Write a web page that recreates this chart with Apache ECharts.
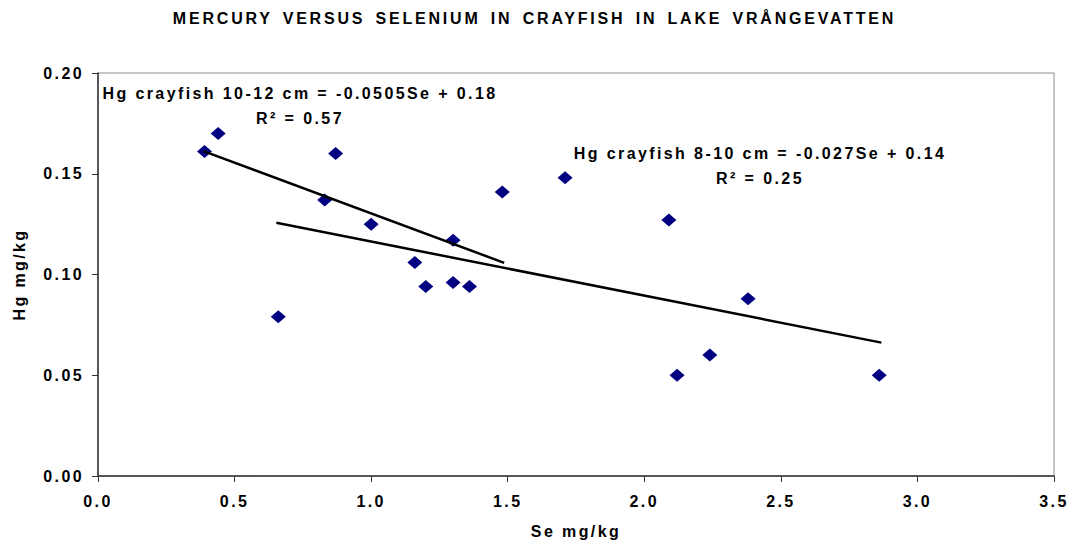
<!DOCTYPE html>
<html>
<head>
<meta charset="utf-8">
<script src="https://cdn.jsdelivr.net/npm/echarts@6/dist/echarts.min.js"></script>
<style>
  html, body { margin: 0; padding: 0; background: #fff; }
  #main { width: 1069px; height: 544px; }
  /* the original export spreads its letters out */
  #main text { letter-spacing: 2.4px; }
  #main text[style*="Liberation"] { letter-spacing: 2.8px; word-spacing: 3px; }
</style>
</head>
<body>
<div id="main"></div>
<script>
// Se (x) and Hg (y), mg/kg
var seValues = [0.39, 0.44, 0.87, 0.83, 1.00, 0.66, 1.16, 1.20, 1.30, 1.30, 1.36, 1.48, 1.71, 2.09, 2.12, 2.24, 2.38, 2.86];
var hgValues = [0.161, 0.170, 0.160, 0.137, 0.125, 0.079, 0.106, 0.094, 0.117, 0.096, 0.094, 0.141, 0.148, 0.127, 0.050, 0.060, 0.088, 0.050];

// trend line end points
var trendLargeX = [0.386, 1.487];   // 10-12 cm
var trendLargeY = [0.1612, 0.1058];
var trendSmallX = [0.653, 2.868];   // 8-10 cm
var trendSmallY = [0.1257, 0.0662];

var xTicks = [0, 0.5, 1, 1.5, 2, 2.5, 3, 3.5];
var yTicks = [0, 0.05, 0.1, 0.15, 0.2];

var chartTitle = 'MERCURY VERSUS SELENIUM IN CRAYFISH IN LAKE VRÅNGEVATTEN';
var eqLarge = ['Hg crayfish 10-12 cm = -0.0505Se + 0.18', 'R² = 0.57'];
var eqSmall = ['Hg crayfish 8-10 cm = -0.027Se + 0.14', 'R² = 0.25'];

function pairs(xs, ys) {
  var out = [];
  for (var i = 0; i < xs.length; i++) out.push([xs[i], ys[i]]);
  return out;
}

var font = 'Arial';
var myChart = echarts.init(document.getElementById('main'), null, { renderer: 'svg' });

myChart.setOption({
  animation: false,
  backgroundColor: '#fff',
  grid: {
    left: 98, right: 15, top: 73, bottom: 67,
    show: true, borderColor: '#8c8c8c', borderWidth: 1
  },
  xAxis: {
    type: 'value',
    min: xTicks[0], max: xTicks[xTicks.length - 1], interval: 0.5,
    name: 'Se mg/kg', nameLocation: 'middle', nameGap: 47,
    nameTextStyle: { fontFamily: font, fontWeight: 'bold', fontSize: 16, color: '#000' },
    axisLine: { lineStyle: { color: '#333', width: 1.5 } },
    axisTick: { show: true, length: 6, lineStyle: { color: '#333' } },
    axisLabel: {
      margin: 17, fontFamily: font, fontWeight: 'bold', fontSize: 16, color: '#000',
      formatter: function (v) { return v.toFixed(1); }
    },
    splitLine: { show: false }
  },
  yAxis: {
    type: 'value',
    min: yTicks[0], max: yTicks[yTicks.length - 1], interval: 0.05,
    name: 'Hg mg/kg', nameLocation: 'middle', nameGap: 71, nameRotate: 90,
    nameTextStyle: { fontFamily: font, fontWeight: 'bold', fontSize: 16, color: '#000' },
    axisLine: { show: true, lineStyle: { color: '#333', width: 1.5 } },
    axisTick: { show: true, length: 6, lineStyle: { color: '#333' } },
    axisLabel: {
      margin: 14, fontFamily: font, fontWeight: 'bold', fontSize: 16, color: '#000',
      formatter: function (v) { return v.toFixed(2); }
    },
    splitLine: { show: false }
  },
  graphic: [
    {
      type: 'text', left: 'center', top: 10,
      style: { text: chartTitle, fontFamily: 'Liberation Sans', fontWeight: 'bold', fontSize: 16, fill: '#000', textAlign: 'center' }
    },
    {
      type: 'text', x: 300, y: 81,
      style: { text: eqLarge.join('\n'), fontFamily: font, fontWeight: 'bold', fontSize: 16, lineHeight: 25, fill: '#000', textAlign: 'center' }
    },
    {
      type: 'text', x: 760, y: 141,
      style: { text: eqSmall.join('\n'), fontFamily: font, fontWeight: 'bold', fontSize: 16, lineHeight: 25, fill: '#000', textAlign: 'center' }
    }
  ],
  series: [
    {
      name: 'Hg vs Se',
      type: 'scatter',
      symbol: 'diamond',
      symbolSize: [15, 13],
      itemStyle: { color: '#000080', opacity: 1 },
      data: pairs(seValues, hgValues),
      z: 3
    },
    {
      name: 'Hg crayfish 10-12 cm',
      type: 'line',
      showSymbol: false,
      lineStyle: { color: '#000', width: 2.5 },
      data: pairs(trendLargeX, trendLargeY),
      z: 4
    },
    {
      name: 'Hg crayfish 8-10 cm',
      type: 'line',
      showSymbol: false,
      lineStyle: { color: '#000', width: 2.5 },
      data: pairs(trendSmallX, trendSmallY),
      z: 4
    }
  ]
});
</script>
</body>
</html>
